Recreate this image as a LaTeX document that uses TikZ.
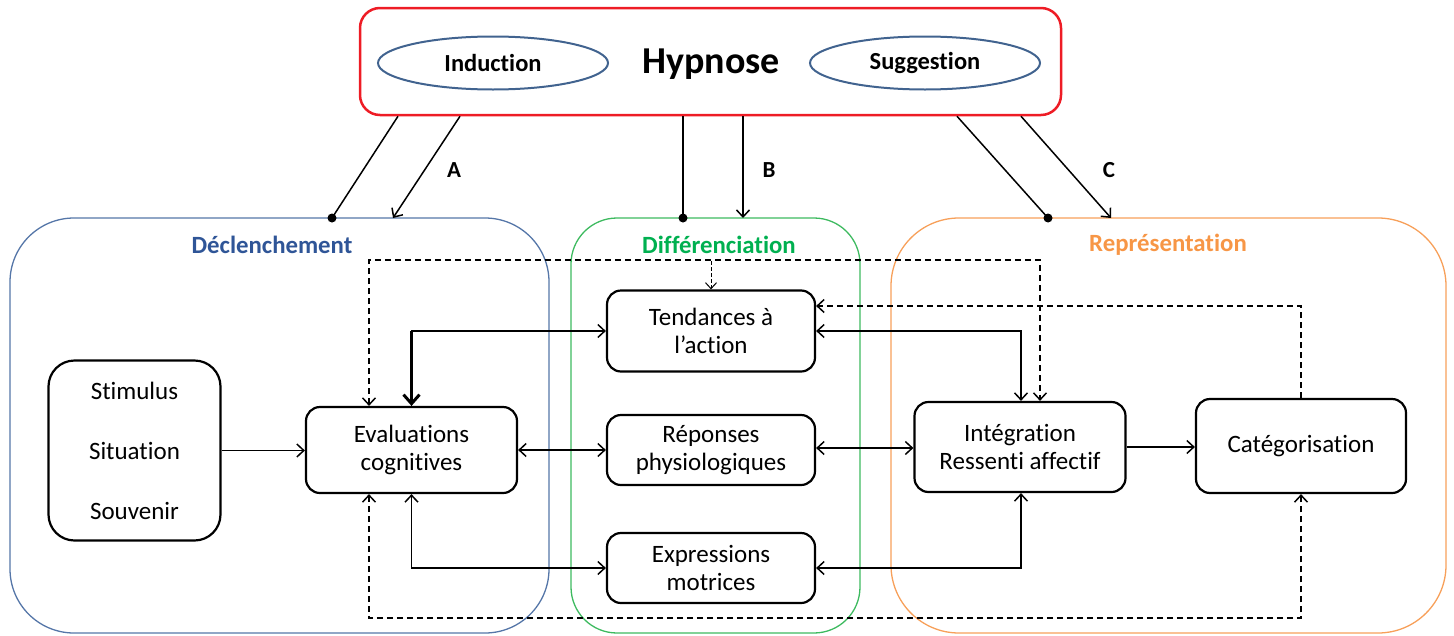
\documentclass[tikz,border=0pt]{standalone}
\usepackage{fontspec}
\setmainfont[Ligatures=NoCommon]{Carlito}
\usetikzlibrary{arrows.meta,calc,shapes.geometric}
\definecolor{hred}{HTML}{EE1C25}
\definecolor{ellblue}{HTML}{41638F}
\definecolor{cblue}{HTML}{5576A8}
\definecolor{tblue}{HTML}{2F5597}
\definecolor{cgreen}{HTML}{3DBA5F}
\definecolor{tgreen}{HTML}{00B050}
\definecolor{corange}{HTML}{F7A05A}
\definecolor{torange}{HTML}{F79646}
\tikzset{
  arr/.tip={Straight Barb[length=7pt,width=13pt]},
  boxnode/.style={draw=black, line width=2.2pt, rounded corners=14pt, fill=white, align=center, inner sep=0pt, font=\fontsize{25}{28.5}\selectfont},
  container/.style={line width=1.3pt, inner sep=0pt},
  titletext/.style={font=\bfseries\fontsize{24.8}{28}\selectfont},
  conn/.style={line width=1.5pt, draw=black},
  thickconn/.style={line width=3pt, draw=black, -{Straight Barb[length=9pt,width=16pt]}},
  dashline/.style={line width=1.5pt, draw=black, dash pattern=on 6pt off 4pt},
  dashthin/.style={line width=1pt, draw=black, dash pattern=on 4pt off 2pt, -{Straight Barb[length=6pt,width=11pt]}},
  ell/.style={ellipse, draw=ellblue, line width=2pt, inner sep=0pt, font=\bfseries\fontsize{24.5}{28}\selectfont},
  letter/.style={font=\bfseries\fontsize{23}{26}\selectfont}
}
\begin{document}
\begin{tikzpicture}[x=1pt,y=-1pt]
\useasboundingbox (0,0) rectangle (1454,635);
% containers
\node[container, draw=cblue, minimum width=539pt, minimum height=415pt, rounded corners=64pt] (decl) at (279.5,425.5) {};
\node[container, draw=cgreen, minimum width=289pt, minimum height=415pt, rounded corners=46pt] (diff) at (715.5,425.5) {};
\node[container, draw=corange, minimum width=555pt, minimum height=415pt, rounded corners=68pt] (repr) at (1168.5,425.5) {};
\node[titletext, text=tblue] (decltitle) at (272,245) {Déclenchement};
\node[titletext, text=tgreen] (difftitle) at (719,245) {Différenciation};
\node[titletext, text=torange] (reprtitle) at (1168,245) {Représentation};

% hypnose
\node[draw=hred, line width=2.5pt, rounded corners=20pt, minimum width=701pt, minimum height=107pt, inner sep=0pt] (hyp) at (710.5,61.5) {};
\node[font=\bfseries\fontsize{38}{40}\selectfont] (hyptext) at (711,64) {Hypnose};
\node[ell, minimum width=230pt, minimum height=53pt] (ind) at (493,63) {Induction};
\node[ell, minimum width=230pt, minimum height=53pt] (sug) at (925,63) {Suggestion};

\coordinate (dA) at (332,218);
\coordinate (tA) at (393,218);
\coordinate (dB) at (683,218);
\coordinate (tB) at (743,218);
\coordinate (dC) at (1048,218);
\coordinate (tC) at (1111,218);
\draw[conn] ([xshift=-312.5pt]hyp.south) -- (dA);
\draw[conn,-arr] ([xshift=-250.5pt]hyp.south) -- (tA);
\draw[conn] ([xshift=-27.5pt]hyp.south) -- (dB);
\draw[conn,-arr] ([xshift=32.5pt]hyp.south) -- (tB);
\draw[conn] ([xshift=246.5pt]hyp.south) -- (dC);
\draw[conn,-arr] ([xshift=310.5pt]hyp.south) -- (tC);
\fill (dA) circle (4.5pt);
\fill (dB) circle (4.5pt);
\fill (dC) circle (4.5pt);
\node[letter] (la) at (454,170) {A};
\node[letter] (lb) at (769,170) {B};
\node[letter] (lc) at (1109,170) {C};

% boxes
\node[boxnode, rounded corners=26pt, minimum width=172pt, minimum height=180pt, font=\fontsize{25}{60}\selectfont] (stim) at (134.5,450.5) {Stimulus\\Situation\\Souvenir};
\node[boxnode, minimum width=211pt, minimum height=86pt] (eval) at (411.5,450) {Evaluations\\cognitives};
\node[boxnode, minimum width=208pt, minimum height=81pt] (tend) at (711,331) {Tendances à\\l’action};
\node[boxnode, minimum width=208pt, minimum height=70pt] (rep) at (711,450) {Réponses\\physiologiques};
\node[boxnode, minimum width=208pt, minimum height=70pt] (expr) at (711,568) {Expressions\\motrices};
\node[boxnode, minimum width=211pt, minimum height=90pt] (integ) at (1020,447) {Intégration\\Ressenti affectif};
\node[boxnode, minimum width=210pt, minimum height=94pt] (cat) at (1301,446) {Catégorisation};

% solid connectors
\draw[conn,-arr] (stim.east) -- (stim.east -| eval.west);
\draw[conn,arr-arr] (eval.east) -- (eval.east -| rep.west);
\draw[conn,-arr] (eval.north) |- (tend.west);
\draw[thickconn] (eval.north |- tend.west) -- (eval.north);
\draw[conn,arr-arr] (eval.south) |- (expr.west);
\draw[conn,arr-arr] ([yshift=2pt]rep.east) -- ([yshift=2pt]rep.east -| integ.west);
\draw[conn,arr-arr] (tend.east) -| ([xshift=1pt]integ.north);
\draw[conn,arr-arr] (expr.east) -| ([xshift=1pt]integ.south);
\draw[conn,-arr] (integ.east) -- (integ.east -| cat.west);

% dashed connectors
\coordinate (dtop) at (710,261);
\draw[dashline,arr-arr] ([xshift=-42.5pt]eval.north) -- ++(0,-146) -| ([xshift=20pt]integ.north);
\draw[dashthin] (tend.north |- dtop) -- (tend.north);
\draw[dashline,arr-arr] ([xshift=-42.5pt]eval.south) -- ++(0,124) -| (cat.south);
\draw[dashline,-arr] (cat.north) |- ([yshift=25pt]tend.east);
\end{tikzpicture}
\end{document}
